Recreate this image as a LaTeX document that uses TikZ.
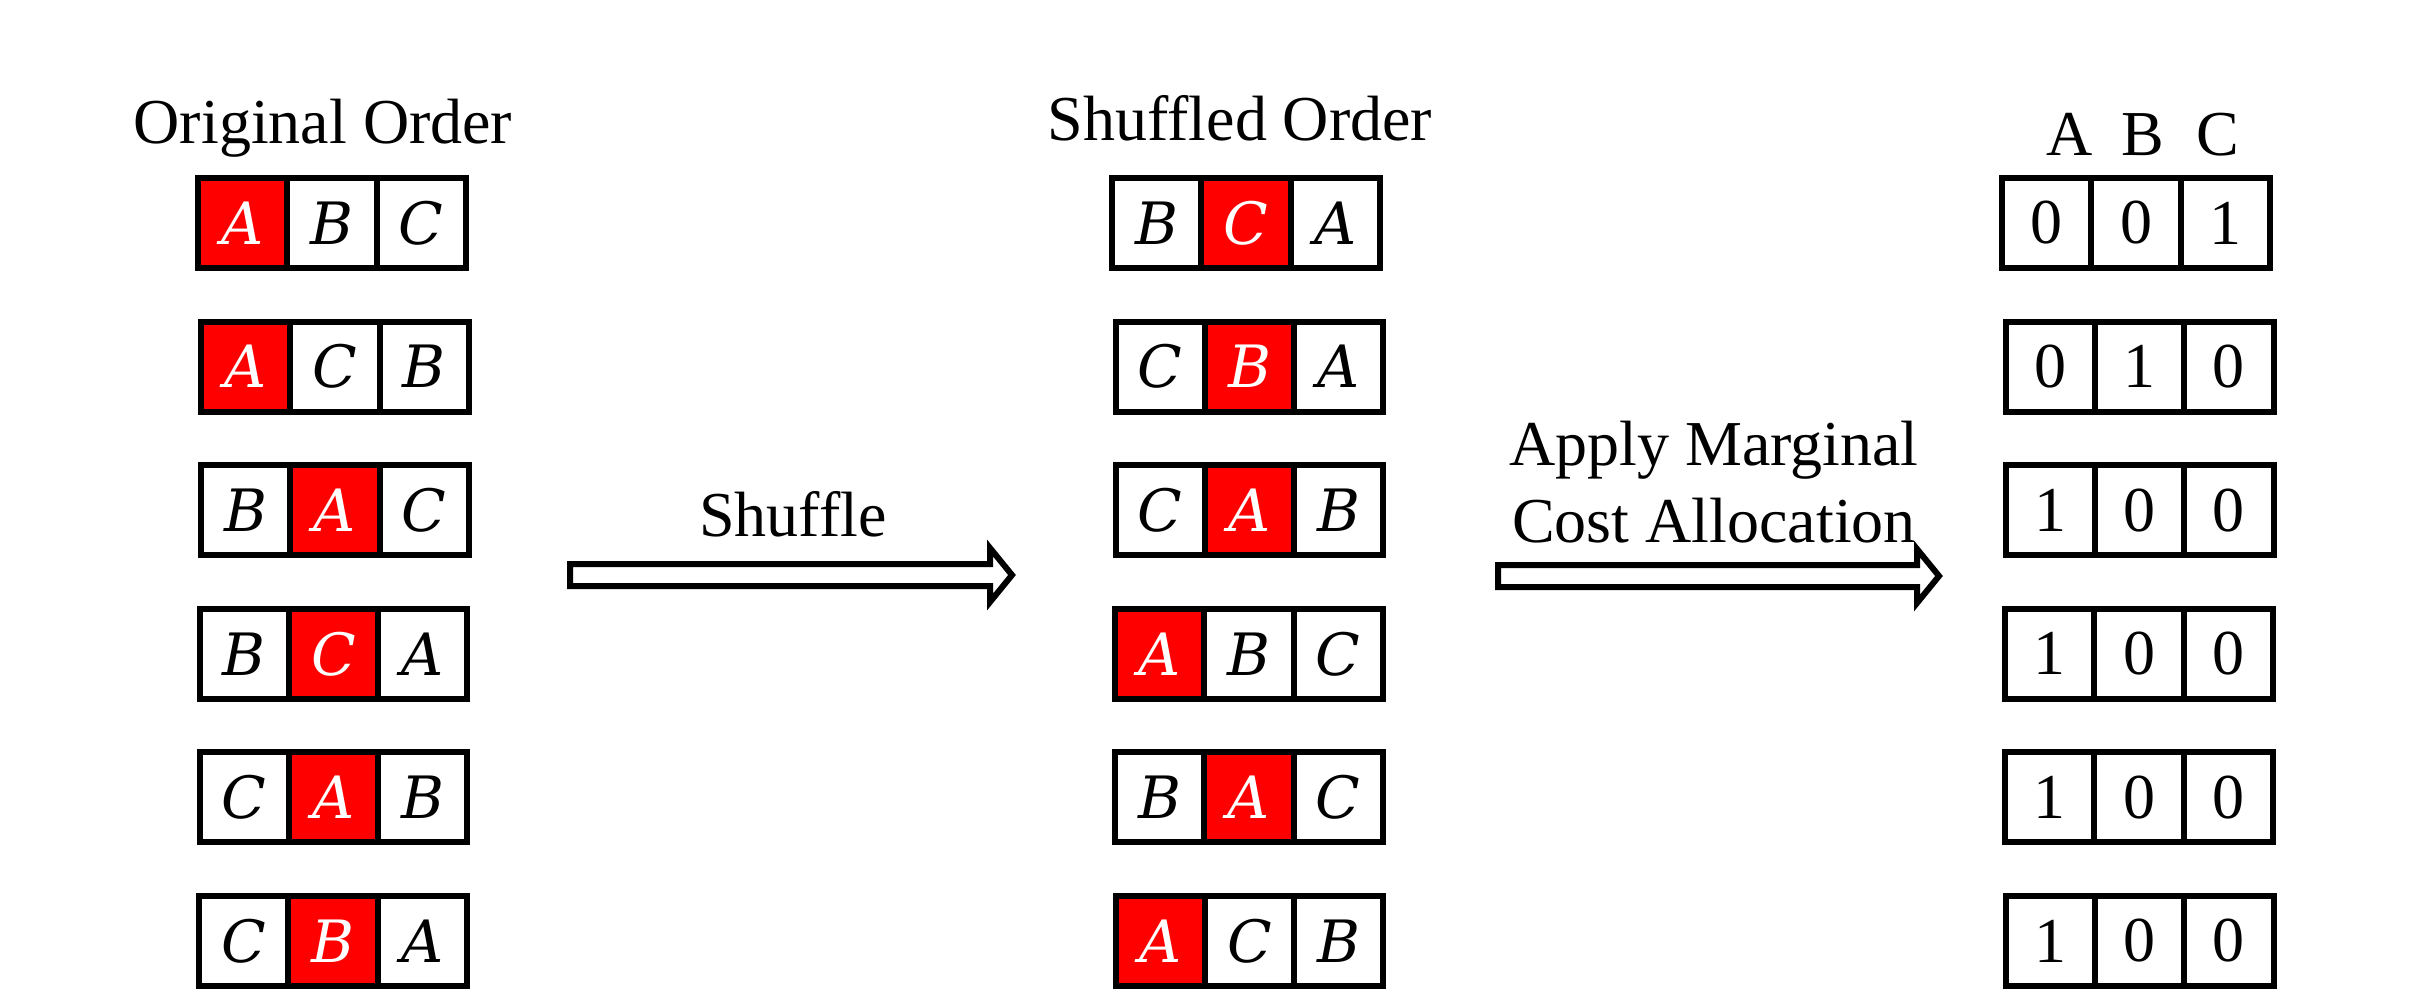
\documentclass[tikz,border=0pt]{standalone}
\usepackage{fontspec}
\setmainfont{Liberation Serif}
\newfontfamily\cellitfont{DejaVu Serif}
\usetikzlibrary{calc}
\begin{document}
\begin{tikzpicture}[x=0.01cm,y=-0.01cm,
  lbl/.style={inner sep=0pt, font=\fontsize{18.2}{22}\selectfont},
  wc/.style={draw, line width=0.06cm, minimum width=0.893cm, minimum height=0.9cm, inner sep=0pt, fill=white, font=\fontsize{18.2}{22}\selectfont},
  lc/.style={wc, font=\cellitfont\itshape\fontsize{16.6}{20}\selectfont},
  rc/.style={lc, fill=red, text=white},
  harrow/.style={draw, line width=0.06cm, fill=white, line join=miter}]
\useasboundingbox (0,0) rectangle (2436,990);
% titles
\node[lbl, anchor=base] (t1) at (323,143) {Original Order};
\node[lbl, anchor=base] (t2) at (1240,140) {Shuffled Order};
\node[lbl, anchor=base] (hA) at (2070,155) {A};
\node[lbl, anchor=base] (hB) at (2143,155) {B};
\node[lbl, anchor=base] (hC) at (2218,155) {C};
% rows
\foreach \nm/\cx/\cy/\la/\sa/\lb/\sb/\lc/\sc in {
  L1/332/223/A/rc/B/lc/C/lc,
  L2/335/366.6/A/rc/C/lc/B/lc,
  L3/335/510.2/B/lc/A/rc/C/lc,
  L4/333.5/653.8/B/lc/C/rc/A/lc,
  L5/333.5/797.4/C/lc/A/rc/B/lc,
  L6/333/941/C/lc/B/rc/A/lc,
  M1/1246/223/B/lc/C/rc/A/lc,
  M2/1249.5/366.6/C/lc/B/rc/A/lc,
  M3/1249.5/510.2/C/lc/A/rc/B/lc,
  M4/1249/653.8/A/rc/B/lc/C/lc,
  M5/1249/797.4/B/lc/A/rc/C/lc,
  M6/1249.5/941/A/rc/C/lc/B/lc}{
  \node[\sa] (\nm-1) at (\cx-89.3,\cy) {\la};
  \node[\sb] (\nm-2) at (\cx,\cy) {\lb};
  \node[\sc] (\nm-3) at (\cx+89.3,\cy) {\lc};
}
\foreach \nm/\cx/\cy/\la/\lb/\lc in {
  R1/2136/223/0/0/1,
  R2/2139.5/366.6/0/1/0,
  R3/2139.5/510.2/1/0/0,
  R4/2139/653.8/1/0/0,
  R5/2139/797.4/1/0/0,
  R6/2139.5/941/1/0/0}{
  \node[wc] (\nm-1) at (\cx-89.3,\cy) {\la};
  \node[wc] (\nm-2) at (\cx,\cy) {\lb};
  \node[wc] (\nm-3) at (\cx+89.3,\cy) {\lc};
}
% arrows
\coordinate (a1s) at (570,575);
\coordinate (a1e) at (1012,575);
\draw[harrow] ($(a1s)+(0,-11)$) -- ($(a1e)+(-22,-11)$) -- ($(a1e)+(-22,-27)$) -- (a1e)
  -- ($(a1e)+(-22,27)$) -- ($(a1e)+(-22,11)$) -- ($(a1s)+(0,11)$) -- cycle;
\coordinate (a2s) at (1498,576);
\coordinate (a2e) at (1939,576);
\draw[harrow] ($(a2s)+(0,-11)$) -- ($(a2e)+(-22,-11)$) -- ($(a2e)+(-22,-27)$) -- (a2e)
  -- ($(a2e)+(-22,27)$) -- ($(a2e)+(-22,11)$) -- ($(a2s)+(0,11)$) -- cycle;
\node[lbl, anchor=base] (sh) at (793,536) {Shuffle};
\node[lbl, anchor=base] (ap1) at (1714,465) {Apply Marginal};
\node[lbl, anchor=base] (ap2) at (1714,542) {Cost Allocation};
\end{tikzpicture}
\end{document}
